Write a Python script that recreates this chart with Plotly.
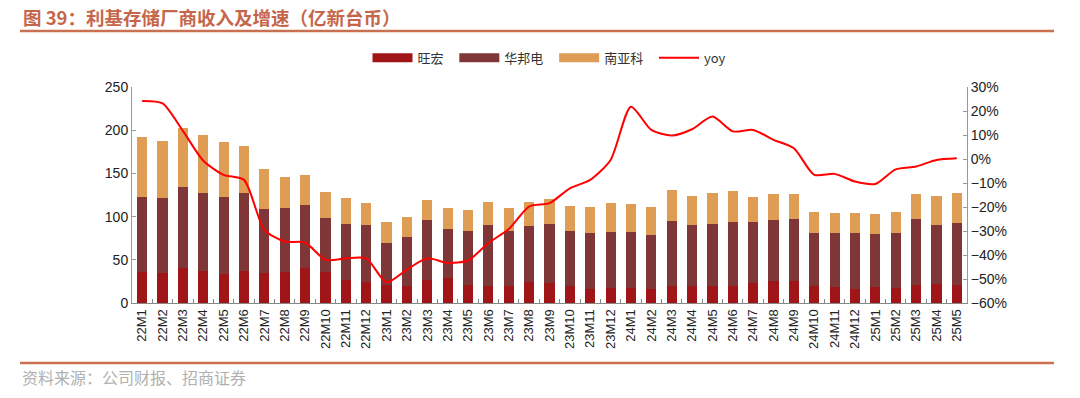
import plotly.graph_objects as go

categories = [f"22M{i}" for i in range(1, 13)] + [f"23M{i}" for i in range(1, 13)] + \
             [f"24M{i}" for i in range(1, 13)] + [f"25M{i}" for i in range(1, 6)]

# cumulative tops
macronix = [35.5, 34.3, 41.0, 37.4, 34.0, 37.4, 34.7, 36.3, 40.0, 35.9, 26.2, 24.7,
            20.8, 19.3, 26.6, 28.5, 21.2, 19.7, 20.1, 24.7, 23.5, 20.1, 16.6, 17.0,
            17.7, 15.8, 19.3, 19.7, 20.1, 20.1, 22.8, 25.5, 25.0, 19.7, 18.1, 16.6,
            18.5, 17.4, 21.2, 22.4, 21.2]
winbond_top = [123.0, 121.0, 134.0, 127.0, 122.7, 127.0, 108.8, 110.3, 113.8, 98.0, 91.4, 89.9,
               69.8, 76.8, 95.7, 85.6, 82.9, 90.3, 83.3, 88.7, 91.4, 83.3, 80.6, 82.2,
               81.8, 78.3, 95.3, 89.9, 91.4, 94.1, 93.4, 95.7, 97.6, 81.0, 80.6, 80.6,
               79.5, 81.0, 96.8, 90.7, 92.6]
total_top = [192.5, 188.0, 203.0, 195.0, 186.7, 181.7, 155.0, 146.2, 148.0, 128.0, 121.5, 115.4,
             94.1, 99.5, 119.6, 110.5, 107.6, 116.9, 110.0, 116.9, 120.8, 112.3, 111.5, 115.7,
             114.6, 110.7, 131.2, 123.8, 126.9, 130.0, 123.0, 125.8, 125.8, 105.0, 104.6, 104.6,
             102.6, 105.7, 126.5, 123.5, 127.7]
winbond = [round(w - m, 1) for w, m in zip(winbond_top, macronix)]
nanya = [round(t - w, 1) for t, w in zip(total_top, winbond_top)]

yoy = [24.2, 23.2, 11.7, -0.7, -6.6, -8.7, -29.5, -34.4, -34.8, -42.0, -41.4, -41.4,
       -51.4, -46.1, -41.4, -43.3, -42.3, -35.0, -29.2, -19.8, -18.4, -12.2, -8.7, -0.4,
       21.8, 12.1, 9.8, 12.4, 17.7, 11.5, 12.1, 8.0, 4.5, -6.6, -6.2, -9.4,
       -10.4, -4.3, -3.1, -0.4, 0.3]

names = ["旺宏", "华邦电", "南亚科"]
colors = ["#A01517", "#7F3636", "#DE9C55"]

fig = go.Figure()
for name, vals, c in zip(names, [macronix, winbond, nanya], colors):
    fig.add_trace(go.Bar(x=categories, y=vals, name=name, marker_color=c,
                         marker_line_width=0, showlegend=False))
    # legend proxy with wide swatch
    fig.add_trace(go.Scatter(x=[None], y=[None], mode="lines", name=name + "  ",
                             line=dict(color=c, width=9)))

fig.add_trace(go.Scatter(x=categories, y=yoy, name="yoy", mode="lines", yaxis="y2",
                         line=dict(color="#FF0000", width=2, shape="spline", smoothing=0.7)))

axis_font = dict(family="Liberation Sans, Arial, sans-serif", size=14, color="#222")

# plot area target on the page: x 132-967, y 87-303
fig.update_layout(
    width=1080, height=398,
    margin=dict(l=132, r=113, t=87, b=95),
    paper_bgcolor="white", plot_bgcolor="white",
    barmode="stack", bargap=0.5,
    font=dict(family="Noto Sans CJK SC, sans-serif", color="#222"),
    xaxis=dict(type="category", tickangle=-90, tickfont=dict(family="Liberation Sans, Arial, sans-serif", size=13, color="#222"),
               showline=True, linecolor="#888", linewidth=1, ticks="inside", ticklen=4,
               tickcolor="#888", tickson="boundaries", showgrid=False),
    yaxis=dict(range=[0, 250], dtick=50, showline=True, linecolor="#999", linewidth=1,
               ticks="inside", ticklen=4, tickcolor="#999", showgrid=False, zeroline=False,
               tickfont=axis_font),
    yaxis2=dict(range=[-60, 30], dtick=10, ticksuffix="%", overlaying="y", side="right",
                showline=True, linecolor="#999", linewidth=1, ticks="inside", ticklen=4,
                tickcolor="#999", showgrid=False, zeroline=False, tickfont=axis_font),
    legend=dict(orientation="h", x=0.5, xanchor="center", y=1.135, yanchor="middle",
                font=dict(family="Noto Sans CJK SC, Liberation Serif, serif", size=13, color="#333"),
                itemwidth=40, traceorder="normal"),
    showlegend=True,
)

fig.add_annotation(text="<b>图 39：利基存储厂商收入及增速（亿新台币）</b>", xref="paper", yref="paper",
                   x=(21 - 132) / 835, y=1 + (87 - 17) / 216, xanchor="left", yanchor="middle",
                   showarrow=False, font=dict(family="Noto Sans CJK SC, sans-serif", size=18.5, color="#C5664A"))
fig.add_annotation(text="资料来源：公司财报、招商证券", xref="paper", yref="paper",
                   x=(20 - 132) / 835, y=(303 - 377) / 216, xanchor="left", yanchor="middle",
                   showarrow=False, font=dict(family="Noto Sans CJK SC, sans-serif", size=16, color="#B0B0B0"))
fig.add_shape(type="line", xref="paper", yref="paper", x0=(20 - 132) / 835, x1=(1054 - 132) / 835,
              y0=1 + (87 - 31) / 216, y1=1 + (87 - 31) / 216, line=dict(color="#C8704F", width=2.5))
fig.add_shape(type="line", xref="paper", yref="paper", x0=(20 - 132) / 835, x1=(1054 - 132) / 835,
              y0=(303 - 363) / 216, y1=(303 - 363) / 216, line=dict(color="#C8704F", width=2.5))

fig.write_html("out.html", config={"displayModeBar": False},
               post_script="document.body.style.margin='0';")
